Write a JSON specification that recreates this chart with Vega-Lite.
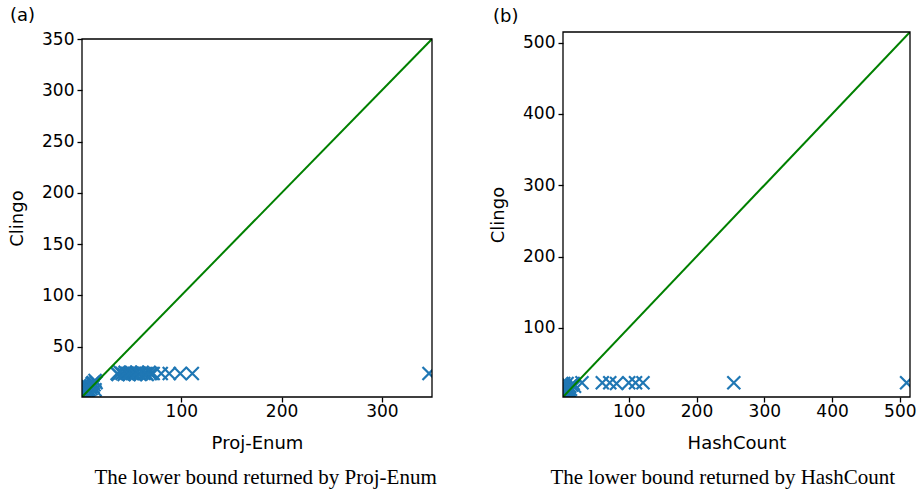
{
  "$schema": "https://vega.github.io/schema/vega-lite/v6.json",
  "padding": {"left": 8, "top": 7, "right": 2, "bottom": 2},
  "background": "white",
  "config": {
    "font": "DejaVu Sans",
    "view": {"stroke": null},
    "axis": {
      "grid": false,
      "domain": false,
      "tickColor": "black",
      "tickWidth": 1.3,
      "tickSize": 5,
      "labelFont": "DejaVu Sans",
      "labelFontSize": 17,
      "labelColor": "black",
      "labelFlush": false,
      "labelOverlap": false,
      "titleFont": "DejaVu Sans",
      "titleFontSize": 18,
      "titleFontWeight": "normal",
      "titleColor": "black"
    },
    "axisX": {"titlePadding": 15, "labelPadding": 1},
    "axisY": {"titlePadding": 15, "labelPadding": 3},
    "title": {"font": "DejaVu Sans", "fontSize": 18, "fontWeight": "normal", "color": "black"}
  },
  "datasets": {
    "pa": [
      {"x": 2, "y": 2}, {"x": 3, "y": 4}, {"x": 4, "y": 3}, {"x": 4, "y": 6}, {"x": 5, "y": 5},
      {"x": 6, "y": 8}, {"x": 7, "y": 6}, {"x": 7, "y": 9}, {"x": 8, "y": 8}, {"x": 9, "y": 11},
      {"x": 10, "y": 9}, {"x": 10, "y": 12}, {"x": 11, "y": 14}, {"x": 12, "y": 11}, {"x": 12, "y": 15},
      {"x": 13, "y": 13}, {"x": 14, "y": 17}, {"x": 15, "y": 15}, {"x": 6, "y": 12}, {"x": 14, "y": 8},
      {"x": 36, "y": 24}, {"x": 37, "y": 23}, {"x": 39, "y": 25}, {"x": 41, "y": 24}, {"x": 43, "y": 23},
      {"x": 44, "y": 25}, {"x": 46, "y": 24}, {"x": 48, "y": 23}, {"x": 49, "y": 25}, {"x": 51, "y": 24},
      {"x": 53, "y": 24}, {"x": 54, "y": 23}, {"x": 56, "y": 25}, {"x": 58, "y": 24}, {"x": 59, "y": 23},
      {"x": 61, "y": 25}, {"x": 63, "y": 24}, {"x": 65, "y": 24}, {"x": 66, "y": 23}, {"x": 68, "y": 25},
      {"x": 70, "y": 24}, {"x": 72, "y": 24}, {"x": 80, "y": 24}, {"x": 88, "y": 24}, {"x": 99, "y": 24},
      {"x": 111, "y": 24}, {"x": 347, "y": 24}
    ],
    "pb": [
      {"x": 2, "y": 3}, {"x": 3, "y": 6}, {"x": 4, "y": 4}, {"x": 5, "y": 8}, {"x": 6, "y": 5},
      {"x": 7, "y": 10}, {"x": 8, "y": 7}, {"x": 9, "y": 12}, {"x": 10, "y": 9}, {"x": 11, "y": 15},
      {"x": 12, "y": 12}, {"x": 13, "y": 18}, {"x": 14, "y": 14}, {"x": 16, "y": 20}, {"x": 18, "y": 22},
      {"x": 4, "y": 14}, {"x": 6, "y": 18}, {"x": 9, "y": 22}, {"x": 4, "y": 22}, {"x": 20, "y": 18},
      {"x": 31, "y": 23}, {"x": 61, "y": 23}, {"x": 72, "y": 23}, {"x": 82, "y": 22}, {"x": 100, "y": 23},
      {"x": 110, "y": 23}, {"x": 121, "y": 23}, {"x": 255, "y": 23}, {"x": 510, "y": 23}
    ],
    "da": [{"x": 1, "y": 1}, {"x": 350, "y": 350}],
    "db": [{"x": 3, "y": 3}, {"x": 515, "y": 515}]
  },
  "concat": [
    {
      "title": {"text": "The lower bound returned by Proj-Enum", "orient": "bottom", "font": "Liberation Serif", "fontSize": 21, "anchor": "middle", "dx": 45, "offset": 15},
      "vconcat": [
        {
          "width": 350,
          "height": 365,
          "title": {"text": "(a)", "anchor": "start", "frame": "group", "dx": -72, "offset": 5},
          "layer": [
            {
              "data": {"name": "pa"},
              "mark": {"type": "point", "shape": "M-1,-1L1,1M-1,1L1,-1", "filled": false, "stroke": "#1f77b4", "strokeWidth": 2.2, "size": 169, "opacity": 1, "clip": true},
              "encoding": {
                "x": {"field": "x", "type": "quantitative", "scale": {"domain": [1, 350], "nice": false, "zero": false}, "axis": {"values": [100, 200, 300], "title": "Proj-Enum"}},
                "y": {"field": "y", "type": "quantitative", "scale": {"domain": [1, 350], "range": [365, 7], "nice": false, "zero": false}, "axis": {"values": [50, 100, 150, 200, 250, 300, 350], "title": "Clingo"}}
              }
            },
            {
              "data": {"name": "da"},
              "mark": {"type": "line", "color": "#008000", "strokeWidth": 2, "clip": true},
              "encoding": {
                "x": {"field": "x", "type": "quantitative"},
                "y": {"field": "y", "type": "quantitative"}
              }
            },
            {
              "data": {"values": [{}]},
              "mark": {"type": "rect", "fill": null, "stroke": "black", "strokeWidth": 1.3},
              "encoding": {
                "x": {"datum": 1, "type": "quantitative"},
                "x2": {"datum": 350},
                "y": {"datum": 1, "type": "quantitative"},
                "y2": {"datum": 350}
              }
            }
          ]
        }
      ]
    },
    {
      "title": {"text": "The lower bound returned by HashCount", "orient": "bottom", "font": "Liberation Serif", "fontSize": 21, "anchor": "middle", "dx": 20, "offset": 15},
      "vconcat": [
        {
          "width": 347,
          "height": 365,
          "title": {"text": "(b)", "anchor": "start", "frame": "group", "dx": -70, "offset": 5},
          "layer": [
            {
              "data": {"name": "pb"},
              "mark": {"type": "point", "shape": "M-1,-1L1,1M-1,1L1,-1", "filled": false, "stroke": "#1f77b4", "strokeWidth": 2.2, "size": 169, "opacity": 1, "clip": true},
              "encoding": {
                "x": {"field": "x", "type": "quantitative", "scale": {"domain": [3, 515], "nice": false, "zero": false}, "axis": {"values": [100, 200, 300, 400, 500], "title": "HashCount"}},
                "y": {"field": "y", "type": "quantitative", "scale": {"domain": [3, 515], "nice": false, "zero": false}, "axis": {"values": [100, 200, 300, 400, 500], "title": "Clingo"}}
              }
            },
            {
              "data": {"name": "db"},
              "mark": {"type": "line", "color": "#008000", "strokeWidth": 2, "clip": true},
              "encoding": {
                "x": {"field": "x", "type": "quantitative"},
                "y": {"field": "y", "type": "quantitative"}
              }
            },
            {
              "data": {"values": [{}]},
              "mark": {"type": "rect", "fill": null, "stroke": "black", "strokeWidth": 1.3},
              "encoding": {
                "x": {"datum": 3, "type": "quantitative"},
                "x2": {"datum": 515},
                "y": {"datum": 3, "type": "quantitative"},
                "y2": {"datum": 515}
              }
            }
          ]
        }
      ]
    }
  ],
  "columns": 2,
  "align": "none",
  "spacing": 52
}
